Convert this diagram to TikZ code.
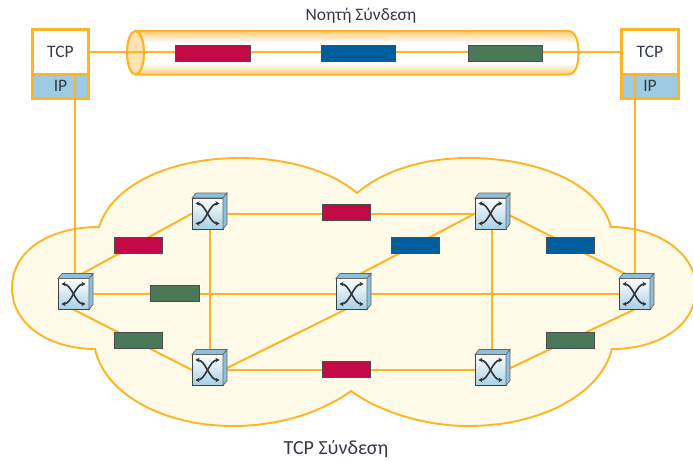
\documentclass[tikz,border=0pt]{standalone}
\usepackage{fontspec}
\setmainfont{Carlito}
\usetikzlibrary{positioning, backgrounds, arrows.meta}

\definecolor{linkorange}{HTML}{FDB525}
\definecolor{cloudfill}{HTML}{FFFBE8}
\definecolor{tubeedge}{HTML}{FDCB78}
\definecolor{tubeend}{HTML}{FFE3B5}
\definecolor{ipblue}{HTML}{9ECBE2}
\definecolor{routerblue}{HTML}{A6D0E6}
\definecolor{routerdark}{HTML}{8FC0DA}
\definecolor{inkgrey}{HTML}{333A45}
\definecolor{pktred}{HTML}{C10A46}
\definecolor{pktblue}{HTML}{005E9C}
\definecolor{pktgreen}{HTML}{4A7859}

\pgfdeclareverticalshading{tubeshade}{100bp}{color(0bp)=(tubeedge); color(25bp)=(tubeedge); color(38bp)=(white); color(62bp)=(white); color(75bp)=(tubeedge); color(100bp)=(tubeedge)}

\tikzset{
	link/.style={draw=linkorange, line width=2pt},
	pkt/.style={draw=black!70, line width=0.9pt, minimum width=48.5pt, minimum height=16pt, inner sep=0pt, outer sep=0pt},
	longpkt/.style={pkt, minimum width=74.5pt},
	tcpbox/.style={draw=linkorange, line width=2.8pt, fill=white, minimum width=56.6pt, minimum height=45pt, inner sep=0pt, outer sep=0pt, text=inkgrey, font=\fontsize{17.5}{17.5}\selectfont},
	ipbox/.style={tcpbox, fill=ipblue, minimum height=24pt},
	routerbox/.style={draw=black!75, line width=1pt, top color=white, bottom color=routerblue, minimum size=31pt, inner sep=0pt, outer sep=0pt},
	routerface/.style={draw=black!60, line width=0.7pt, fill=routerdark},
	routerarrow/.style={{Stealth[length=4pt,width=4.5pt]}-{Stealth[length=4pt,width=4.5pt]}, draw=black!80, line width=1.6pt},
	caption/.style={text=inkgrey, font=\fontsize{17.5}{17.5}\selectfont}
}

\newcommand{\router}[3]{
	\node (#1) [routerbox] at (#2,#3) {};
	\draw[routerface] (#1.north west) -- ++(4,-5) -- ++(31,0) -- ++(-4,5) -- cycle;
	\draw[routerface] (#1.north east) -- ++(4,-5) -- ++(0,31) -- ++(-4,5) -- cycle;
	\draw[routerarrow] ([shift={(-12,-10)}]#1.center) .. controls ([shift={(-2,-10)}]#1.center) and ([shift={(2,10)}]#1.center) .. ([shift={(12,10)}]#1.center);
	\draw[routerarrow] ([shift={(12,-10)}]#1.center) .. controls ([shift={(2,-10)}]#1.center) and ([shift={(-2,10)}]#1.center) .. ([shift={(-12,10)}]#1.center);
}

\begin{document}
\begin{tikzpicture}[x=1pt, y=-1pt]
	\useasboundingbox (0,0) rectangle (693,461);

	% Hosts
	\node (tcpL) [tcpbox] at (60.5,51.7) {TCP};
	\node (tcpR) [tcpbox] at (650,51.7) {TCP};

	% Routers
	\router{rA}{73.5}{294}
	\router{rB}{207.5}{213.5}
	\router{rC}{207.5}{370}
	\router{rM}{351.5}{294}
	\router{rT}{490.5}{213.5}
	\router{rU}{490.5}{370}
	\router{rF}{634.5}{294}

	% Packets on the tube
	\node (p1) [longpkt, fill=pktred] at (213,53) {};
	\node (p2) [longpkt, fill=pktblue] at (358.5,53) {};
	\node (p3) [longpkt, fill=pktgreen] at (505.5,53) {};

	% Packets in the cloud
	\node (q1) [pkt, fill=pktred] at (138.5,245.5) {};
	\node (q2) [pkt, fill=pktgreen] at (175,293.5) {};
	\node (q3) [pkt, fill=pktgreen] at (138.5,340.5) {};
	\node (q4) [pkt, fill=pktred] at (346.5,212.5) {};
	\node (q5) [pkt, fill=pktred] at (346.5,369) {};
	\node (q6) [pkt, fill=pktblue] at (415.5,245.5) {};
	\node (q7) [pkt, fill=pktblue] at (570.5,245.5) {};
	\node (q8) [pkt, fill=pktgreen] at (570.5,340) {};

	% Labels
	\node (top) [caption] at (361,16) {Νοητή Σύνδεση};
	\node (bottom) [caption, font=\fontsize{20}{20}\selectfont] at (336,449) {TCP Σύνδεση};

	\begin{pgfonlayer}{background}
		% Cloud
		\draw[draw=linkorange, line width=1.9pt, fill=cloudfill]
			(99,227) .. controls (112,185) and (170,158) .. (240,158)
			.. controls (285,158) and (330,170) .. (357,193)
			.. controls (384,170) and (425,158) .. (468,158)
			.. controls (540,158) and (600,185) .. (611,227)
			.. controls (660,227) and (696,255) .. (696,288)
			.. controls (696,325) and (660,349) .. (612,349)
			.. controls (600,395) and (540,426) .. (468,426)
			.. controls (425,426) and (380,412) .. (351,391)
			.. controls (322,412) and (280,426) .. (233,426)
			.. controls (165,426) and (105,395) .. (95,349)
			.. controls (50,349) and (12,325) .. (12,288)
			.. controls (12,250) and (50,227) .. (99,227) -- cycle;

		% Tube
		\draw[draw=linkorange, line width=2pt, shade, shading=tubeshade]
			(135.5,31) -- (568,31) .. controls (576,31) and (578.5,42) .. (578.5,53)
			.. controls (578.5,64) and (576,74.5) .. (568,74.5) -- (135.5,74.5) -- cycle;
		\draw[draw=linkorange, line width=2.2pt, fill=tubeend] (135.5,52.7) ellipse (8.5 and 21.7);

		% IP boxes
		\node (ipL) [ipbox, below=0pt of tcpL] {};
		\node (ipR) [ipbox, below=0pt of tcpR] {};

		% Edges
		\draw[link] (tcpL) -- (tcpR);
		\draw[link] ([xshift=14pt]ipL.north) -- ([xshift=14pt]ipL.north |- rA.north);
		\draw[link] ([xshift=-15pt]ipR.north) -- ([xshift=-15pt]ipR.north |- rF.north);
		\draw[link] (rA.north) -- (rB.west);
		\draw[link] (rA.south) -- (rC.west);
		\draw[link] (rA.east) -- (rM.west);
		\draw[link] (rB.east) -- (rT.west);
		\draw[link] ([xshift=2.5pt]rB.south) -- ([xshift=2.5pt]rC.north);
		\draw[link] (rC.east) -- ([xshift=-6pt]rM.south);
		\draw[link] (rC.east) -- (rU.west);
		\draw[link] (rM.north) -- (rT.west);
		\draw[link] (rM.east) -- (rF.west);
		\draw[link] ([xshift=1.5pt]rT.south) -- ([xshift=1.5pt]rU.north);
		\draw[link] (rT.east) -- (rF.north);
		\draw[link] (rU.east) -- (rF.south);
	\end{pgfonlayer}

	% IP labels
	\node (ipLtext) [text=inkgrey, font=\fontsize{17.5}{17.5}\selectfont] at (ipL) {IP};
	\node (ipRtext) [text=inkgrey, font=\fontsize{17.5}{17.5}\selectfont] at (ipR) {IP};
\end{tikzpicture}
\end{document}
